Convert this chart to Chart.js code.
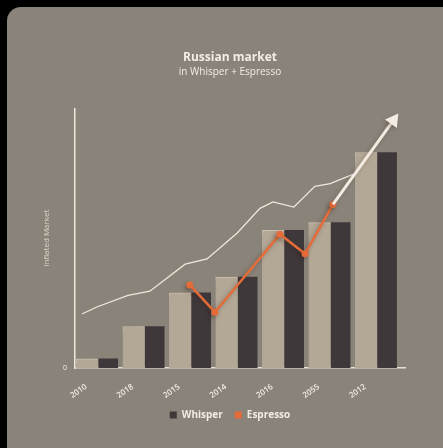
<!DOCTYPE html>
<html>
<head>
<meta charset="utf-8">
<script src="https://cdn.jsdelivr.net/npm/chart.js@4/dist/chart.umd.min.js"></script>
<style>
  html, body { margin: 0; padding: 0; background: #000; width: 443px; height: 448px; overflow: hidden; }
  #panel { position: absolute; left: 7px; top: 7px; width: 460px; height: 460px; background: #8a8379; border-radius: 14px; }
  #wrap { position: absolute; left: 0; top: 0; width: 443px; height: 448px; }
</style>
</head>
<body>
<div id="panel"></div>
<div id="wrap"><canvas id="chart"></canvas></div>
<script>
// categories (tick labels as printed)
const years = ['2010', '2018', '2015', '2014', '2016', '2055', '2012'];
// bar values
const market = [3.5, 16, 29, 35, 53, 56, 83];
const whisper = [3.5, 16, 29, 35, 53, 56, 83];
// espresso line: positions in category units and values
const espressoX = [1.97, 2.51, 3.91, 4.45, 5.05];
const espressoY = [32, 21.5, 51.5, 44, 63];
// thin white trend line
const trendX = [-0.35, -0.03, 0.64, 1.11, 1.87, 2.34, 2.99, 3.48, 3.76, 4.21, 4.66, 4.99, 5.48];
const trendY = [20.8, 23.5, 28, 29.6, 40, 42, 52, 61.5, 64, 62, 70, 71, 74.6];
// growth arrow
const arrowX = [5.05, 6.35];
const arrowY = [63, 95.4];

const pts = (xs, ys) => xs.map((x, i) => ({ x: x, y: ys[i] }));
// pair of bars sits either side of the category centre
const barsAt = (vals, shift) => vals.map((v, i) => ({ x: i + shift, y: v }));
const txt = '#f3ede4';
const font = 'Open Sans';

// soft drop shadow under bars and the orange line
const shadow = {
  id: 'shadow',
  beforeDatasetDraw(chart, args) {
    const ds = chart.data.datasets[args.index];
    if (!ds.shadow) return;
    const ctx = chart.ctx;
    ctx.save();
    ctx.shadowColor = ds.shadow;
    ctx.shadowBlur = 4;
    ctx.shadowOffsetX = -2;
    ctx.shadowOffsetY = 2;
  },
  afterDatasetDraw(chart, args) {
    if (chart.data.datasets[args.index].shadow) chart.ctx.restore();
  }
};

new Chart(document.getElementById('chart'), {
  type: 'bar',
  plugins: [shadow],
  data: {
    datasets: [
      {
        label: 'Market',
        data: barsAt(market, -0.237),
        backgroundColor: '#b3a795',
        borderColor: '#d3c8b8',
        borderWidth: { left: 1, top: 1, right: 0, bottom: 0 },
        borderSkipped: false,
        grouped: false,
        barThickness: 22,
        shadow: 'rgba(40,34,30,0.25)',
        order: 3
      },
      {
        label: 'Whisper',
        data: barsAt(whisper, 0.215),
        backgroundColor: '#3f383a',
        grouped: false,
        barThickness: 19,
        order: 3
      },
      {
        type: 'line',
        label: 'Trend',
        data: pts(trendX, trendY),
        borderColor: '#eee7dc',
        borderWidth: 1.3,
        pointRadius: 0,
        tension: 0,
        order: 2
      },
      {
        type: 'line',
        label: 'Espresso',
        data: pts(espressoX, espressoY),
        borderColor: '#e56c38',
        backgroundColor: '#e56c38',
        borderWidth: 2.5,
        pointRadius: 3.5,
        pointBackgroundColor: '#e56c38',
        pointBorderWidth: 0,
        tension: 0,
        shadow: 'rgba(60,30,20,0.35)',
        order: 1
      },
      {
        type: 'line',
        label: 'Arrow',
        data: pts(arrowX, arrowY),
        borderColor: '#f1ebe2',
        backgroundColor: '#f1ebe2',
        borderWidth: 3,
        pointStyle: 'triangle',
        pointRadius: [0, 8.5],
        pointRotation: 36,
        pointBorderWidth: 0,
        pointBackgroundColor: '#f1ebe2',
        tension: 0,
        shadow: 'rgba(60,30,20,0.25)',
        order: 0
      }
    ]
  },
  options: {
    responsive: true,
    maintainAspectRatio: false,
    animation: false,
    layout: { padding: { left: 35, right: 18, top: 50, bottom: 18 } },
    plugins: {
      title: {
        display: true,
        text: 'Russian market',
        color: txt,
        font: { family: font, size: 12, weight: 'bold' },
        padding: { top: 0, bottom: 2 }
      },
      subtitle: {
        display: true,
        text: 'in Whisper + Espresso',
        color: txt,
        font: { family: font, size: 10 },
        padding: { top: 0, bottom: 30 }
      },
      legend: {
        position: 'bottom',
        labels: {
          color: txt,
          boxWidth: 7,
          boxHeight: 7,
          padding: 12,
          font: { family: font, size: 10, weight: 'bold' },
          generateLabels: chart => Chart.defaults.plugins.legend.labels.generateLabels(chart)
            .filter(item => item.text === 'Whisper' || item.text === 'Espresso')
            .sort((a, b) => a.datasetIndex - b.datasetIndex)
            .map(item => Object.assign(item, { lineWidth: 0, strokeStyle: 'transparent', borderRadius: 0 }))
        }
      },
      tooltip: { enabled: false }
    },
    scales: {
      x: {
        type: 'linear',
        min: -0.5,
        max: 6.6,
        offset: false,
        grid: { display: false },
        border: { color: '#e9e1d5', width: 1.5 },
        afterBuildTicks: s => { s.ticks = years.map((_, i) => ({ value: i })); },
        ticks: {
          color: txt,
          font: { family: font, size: 8, weight: '600' },
          minRotation: 35,
          maxRotation: 35,
          padding: 6,
          labelOffset: -12,
          callback: v => years[v]
        },
        afterFit: s => { s.height = 30; }
      },
      y: {
        min: 0,
        max: 100,
        grid: { display: false, drawTicks: false },
        border: { color: '#f0e9de', width: 1.5 },
        ticks: {
          stepSize: 100,
          color: txt,
          padding: 8,
          font: { family: font, size: 7 },
          callback: v => (v === 0 ? '0' : '')
        },
        title: {
          display: true,
          text: 'Inflated Market',
          color: '#ddd5c9',
          font: { family: font, size: 8 },
          padding: { top: 7, bottom: 0 }
        },
        afterFit: s => { s.width = 40; }
      },
      yr: {
        position: 'right',
        min: 0,
        max: 100,
        grid: { display: false },
        border: { display: false },
        ticks: { display: false },
        afterFit: s => { s.width = 20; }
      }
    }
  }
});
</script>
</body>
</html>
